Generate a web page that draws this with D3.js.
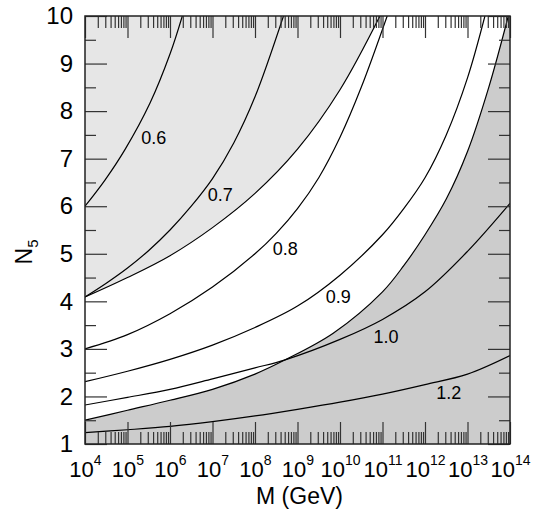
<!DOCTYPE html>
<html>
<head>
<meta charset="utf-8">
<script src="https://cdn.jsdelivr.net/npm/d3@7"></script>
<style>
  body { margin: 0; background: #fff; }
  text { font-family: "Liberation Sans", Arial, Helvetica, sans-serif; fill: #000; }
</style>
</head>
<body>
<svg id="chart" width="541" height="516"></svg>
<script>
// contour values: [log10(M / GeV), N5]
var c06 = [[4, 6.0], [4.47, 6.55], [4.94, 7.19], [5.53, 8.17], [6.0, 9.2], [6.29, 10]];
var c07 = [[4, 4.09], [4.5, 4.38], [5, 4.7], [5.5, 5.07], [6, 5.5], [6.5, 6.0], [7, 6.58], [7.5, 7.33], [8, 8.3], [8.67, 10]];
var c08 = [[4, 3.0], [5, 3.3], [6, 3.74], [7, 4.3], [8, 5.0], [8.5, 5.43], [9, 5.95], [9.5, 6.6], [10, 7.45], [10.5, 8.5], [11.11, 10]];
var c09 = [[4, 2.31], [5, 2.53], [6, 2.78], [7, 3.08], [8, 3.45], [9, 3.9], [10, 4.55], [11, 5.4], [11.5, 5.95], [12, 6.6], [12.5, 7.5], [13, 8.7], [13.41, 10]];
var c10 = [[4, 1.82], [5, 1.98], [6, 2.15], [7, 2.37], [8, 2.6], [8.71, 2.77], [10, 3.2], [11, 3.62], [12, 4.2], [13, 5.05], [14, 6.06]];
var c12 = [[4, 1.24], [5, 1.3], [6, 1.37], [7, 1.47], [8, 1.59], [9, 1.73], [10, 1.88], [11, 2.05], [12, 2.25], [13, 2.47], [14, 2.86]];

// edges of the shaded regions
var upperEdge = [[4, 4.09], [5, 4.5], [6, 4.96], [7, 5.55], [8, 6.27], [9, 7.2], [10, 8.45], [10.94, 10]];
var lowerEdge = [[4, 1.5], [5, 1.71], [6, 1.92], [7, 2.15], [8, 2.47], [8.71, 2.77], [9.84, 3.33], [11, 4.2], [11.5, 4.75], [12, 5.4], [12.5, 6.15], [13, 7.15], [13.5, 8.5], [13.96, 10]];

var contours = [c06, c07, c08, c09, c10, c12];
var contourLabels = ["0.6", "0.7", "0.8", "0.9", "1.0", "1.2"];
var labelSpots = [[5.62, 7.44], [7.18, 6.24], [8.71, 5.11], [9.96, 4.1], [11.08, 3.25], [12.56, 2.07]];

var xExponents = [4, 5, 6, 7, 8, 9, 10, 11, 12, 13, 14];
var yTicks = [1, 2, 3, 4, 5, 6, 7, 8, 9, 10];

var margin = {left: 85, right: 31, top: 16, bottom: 72};
var svg = d3.select("#chart");
var width = +svg.attr("width") - margin.left - margin.right,
    height = +svg.attr("height") - margin.top - margin.bottom;

var x = d3.scaleLog().domain([1e4, 1e14]).range([0, width]);
var y = d3.scaleLinear().domain([1, 10]).range([height, 0]);

var g = svg.append("g").attr("transform", "translate(" + margin.left + "," + margin.top + ")");

g.append("clipPath").attr("id", "plot")
  .append("rect").attr("width", width).attr("height", height);

var line = d3.line()
  .x(function(d) { return x(Math.pow(10, d[0])); })
  .y(function(d) { return y(d[1]); })
  .curve(d3.curveCatmullRom.alpha(0.5));

var plot = g.append("g").attr("clip-path", "url(#plot)");

// shaded regions
plot.append("path")
  .attr("d", line(upperEdge) + "L" + x(1e4) + "," + y(10) + "Z")
  .attr("fill", "#e6e6e6");
plot.append("path")
  .attr("d", line(lowerEdge) + "L" + x(1e14) + "," + y(10) + "L" + x(1e14) + "," + y(1) + "L" + x(1e4) + "," + y(1) + "Z")
  .attr("fill", "#cccccc");

// curves
plot.selectAll(".contour")
  .data(contours.concat([upperEdge, lowerEdge]))
  .enter().append("path")
  .attr("class", "contour")
  .attr("d", line)
  .attr("fill", "none")
  .attr("stroke", "#000")
  .attr("stroke-width", 1.2);

g.selectAll(".clabel")
  .data(labelSpots)
  .enter().append("text")
  .attr("class", "clabel")
  .attr("x", function(d) { return x(Math.pow(10, d[0])); })
  .attr("y", function(d) { return y(d[1]); })
  .attr("dy", "0.35em")
  .attr("text-anchor", "middle")
  .attr("font-size", 18)
  .text(function(d, i) { return contourLabels[i]; });

// ticks
var majorX = xExponents.map(function(e) { return Math.pow(10, e); });
var minorX = [];
xExponents.slice(0, -1).forEach(function(e) {
  for (var k = 2; k < 10; k++) minorX.push(k * Math.pow(10, e));
});
var minorY = yTicks.slice(0, -1).map(function(v) { return v + 0.5; });

function styleTicks(sel) {
  sel.attr("font-family", null);
  sel.select(".domain").remove();
  sel.selectAll(".tick line").attr("stroke", "#333").attr("stroke-width", 1.2);
}

var xb = g.append("g").attr("transform", "translate(0," + height + ")")
  .call(d3.axisBottom(x).tickValues(majorX).tickSize(-22).tickFormat(""))
  .call(styleTicks);
g.append("g").attr("transform", "translate(0," + height + ")")
  .call(d3.axisBottom(x).tickValues(minorX).tickSize(-12).tickFormat(""))
  .call(styleTicks);
g.append("g")
  .call(d3.axisTop(x).tickValues(majorX).tickSize(-22).tickFormat(""))
  .call(styleTicks);
g.append("g")
  .call(d3.axisTop(x).tickValues(minorX).tickSize(-12).tickFormat(""))
  .call(styleTicks);

g.append("g")
  .call(d3.axisLeft(y).tickValues(yTicks).tickSize(-22).tickPadding(12).tickFormat(d3.format("d")))
  .call(styleTicks)
  .selectAll("text").attr("font-size", 24).attr("fill", "#000");
g.append("g")
  .call(d3.axisLeft(y).tickValues(minorY).tickSize(-11).tickFormat(""))
  .call(styleTicks);
g.append("g").attr("transform", "translate(" + width + ",0)")
  .call(d3.axisRight(y).tickValues(yTicks).tickSize(-22).tickFormat(""))
  .call(styleTicks);
g.append("g").attr("transform", "translate(" + width + ",0)")
  .call(d3.axisRight(y).tickValues(minorY).tickSize(-11).tickFormat(""))
  .call(styleTicks);

// powers of ten below the x axis
xb.selectAll(".tick text")
  .attr("font-size", 22).attr("fill", "#000").attr("dy", 0).attr("y", 33)
  .each(function(d) {
    var t = d3.select(this);
    t.append("tspan").text("10");
    t.append("tspan").attr("font-size", 14).attr("dy", -12).text(Math.round(Math.log10(d)));
  });

// frame
g.append("rect")
  .attr("width", width).attr("height", height)
  .attr("fill", "none").attr("stroke", "#222").attr("stroke-width", 1.5);

// axis titles
svg.append("text")
  .attr("x", margin.left + width / 2 + 2).attr("y", 504)
  .attr("text-anchor", "middle").attr("font-size", 23)
  .text("M (GeV)");

var yt = svg.append("text")
  .attr("transform", "translate(32," + (margin.top + height / 2 + 22) + ") rotate(-90)")
  .attr("text-anchor", "middle").attr("font-size", 23);
yt.append("tspan").text("N");
yt.append("tspan").attr("font-size", 15).attr("dy", 6).text("5");
</script>
</body>
</html>
